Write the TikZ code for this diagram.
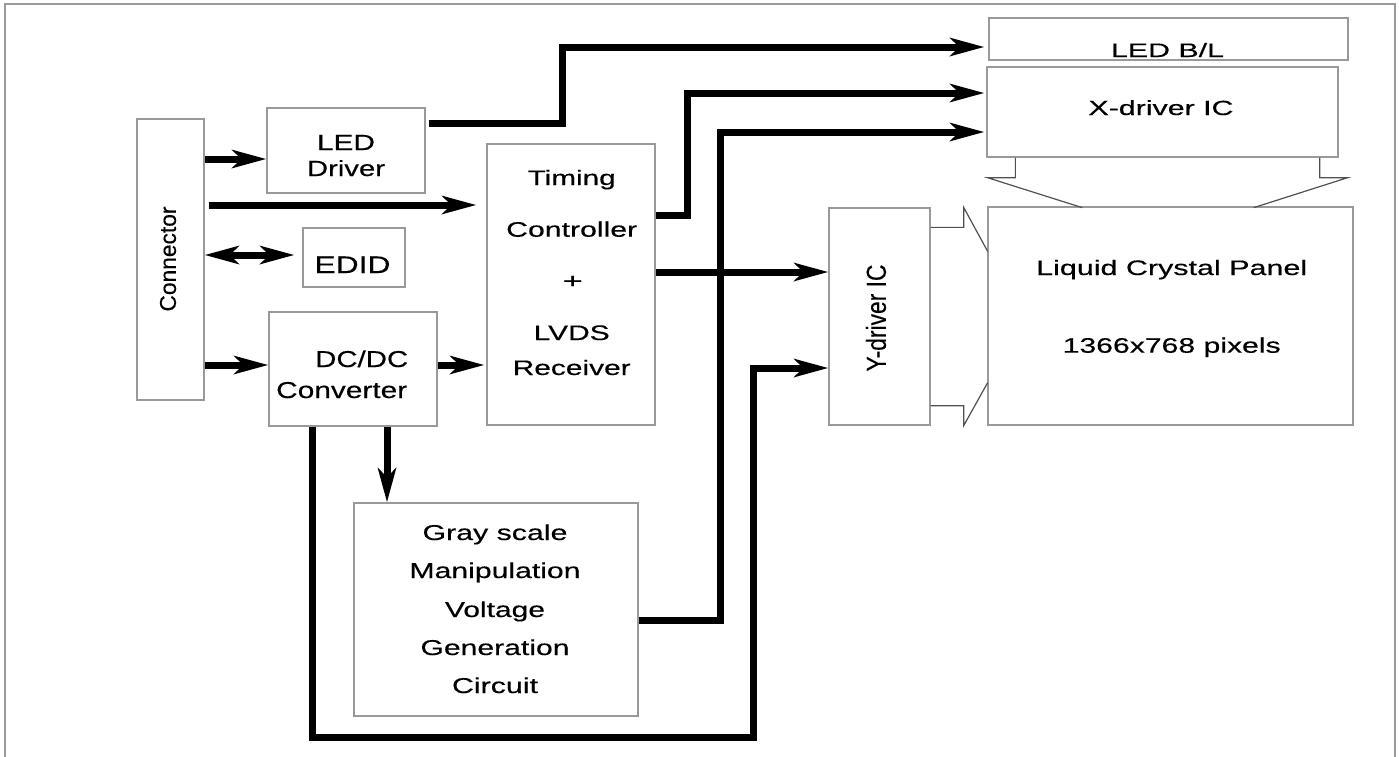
\documentclass[tikz,border=0pt]{standalone}
\usepackage{fontspec}
\setmainfont{Liberation Sans}
\usepackage{graphicx}
\usetikzlibrary{arrows.meta,calc}
\definecolor{boxgray}{HTML}{999999}
\definecolor{framegray}{HTML}{999999}
\definecolor{shpgray}{HTML}{505050}
\newcommand\txw[2]{\resizebox{#1}{\height}{#2}}
\newcommand\fsz[1]{\fontsize{#1}{#1}\selectfont\addfontfeature{FakeBold=0.3}}
\tikzset{
  box/.style={draw=boxgray, line width=1.3pt, inner sep=0pt, rectangle},
  lbl/.style={inner sep=0pt, anchor=base, font=\fsz{21}, text=black},
  vlbl/.style={inner sep=0pt, anchor=center, rotate=90, font=\fsz{20}, text=black},
  tip/.tip={Stealth[length=34pt,width=18pt,inset=9pt]},
  wire/.style={line width=7pt, line join=miter, black},
  arr/.style={wire, -tip},
  shp/.style={draw=shpgray, line width=1.2pt, line join=miter}
}
\begin{document}
\begin{tikzpicture}[x=1pt,y=-1pt]
\useasboundingbox (0,0) rectangle (1399,756);
% frame
\draw[framegray, line width=2.5pt] (5,760) -- (5,4) -- (1395,4) -- (1395,760);

% boxes
\node[box, minimum width=67pt,  minimum height=281pt] (conn)   at (170.5,259.5) {};
\node[box, minimum width=158pt, minimum height=85pt]  (leddrv) at (346,150.5) {};
\node[box, minimum width=102pt, minimum height=59pt]  (edid)   at (354,257.5) {};
\node[box, minimum width=168pt, minimum height=114pt] (dcdc)   at (353,369) {};
\node[box, minimum width=168pt, minimum height=281pt] (tcon)   at (571,284.5) {};
\node[box, minimum width=284pt, minimum height=213pt] (gray)   at (496,609.5) {};
\node[box, minimum width=359pt, minimum height=42pt]  (ledbl)  at (1168.5,39) {};
\node[box, minimum width=351pt, minimum height=90pt]  (xdrv)   at (1162.5,112) {};
\node[box, minimum width=365pt, minimum height=218pt] (lcp)    at (1170.5,316) {};
\node[box, minimum width=101pt, minimum height=217pt] (ydrv)   at (879.5,316.5) {};

% texts
\node[vlbl] (tconn) at (168,259) {\resizebox{105pt}{16pt}{Connector}};
\node[lbl, font=\fsz{22}] (tled1) at (346,150) {\txw{58pt}{LED}};
\node[lbl, font=\fsz{22}] (tled2) at (346,176) {\txw{78pt}{Driver}};
\node[lbl, font=\fsz{24}] (tedid) at (352.5,273) {\txw{76pt}{EDID}};
\node[lbl, font=\fsz{23}] (tdc1) at (361.7,367) {\txw{93pt}{DC/DC}};
\node[lbl, font=\fsz{23}] (tdc2) at (341.7,398) {\txw{131pt}{Converter}};
\node[lbl] (tt1) at (571.7,185) {\txw{88pt}{Timing}};
\node[lbl] (tt2) at (571.7,236.7) {\txw{131pt}{Controller}};
\node[lbl] (tt3) at (572.7,288) {\txw{20pt}{+}};
\node[lbl] (tt4) at (571.7,340) {\txw{76pt}{LVDS}};
\node[lbl] (tt5) at (571.7,375) {\txw{118pt}{Receiver}};
\node[lbl, font=\fsz{21.5}] (tg1) at (495,540) {\txw{145pt}{Gray scale}};
\node[lbl, font=\fsz{21.5}] (tg2) at (495,578) {\txw{171pt}{Manipulation}};
\node[lbl, font=\fsz{21.5}] (tg3) at (495,617) {\txw{100pt}{Voltage}};
\node[lbl, font=\fsz{21.5}] (tg4) at (495,655) {\txw{149pt}{Generation}};
\node[lbl, font=\fsz{21.5}] (tg5) at (495,693) {\txw{86pt}{Circuit}};
\node[lbl, font=\fsz{19.5}] (tbl) at (1167.5,57) {\txw{113pt}{LED B/L}};
\node[lbl, font=\fsz{20.5}] (tx) at (1161,115) {\txw{145pt}{X-driver IC}};
\node[vlbl] (ty) at (876,318) {\resizebox{107pt}{20pt}{Y-driver IC}};
\node[lbl] (tl1) at (1171.7,275) {\txw{271pt}{Liquid Crystal Panel}};
\node[lbl] (tl2) at (1171.7,352.7) {\txw{218pt}{1366x768 pixels}};

% connectors
\coordinate (p1) at ([yshift=-8.5pt]leddrv.west);
\draw[arr] (conn.east |- p1) -- (p1);

\coordinate (p2) at ([yshift=79.5pt]tcon.west);
\draw[arr, shorten <=4pt, shorten >=10pt] (conn.east |- p2) -- (p2);

\coordinate (p3) at ([yshift=2.5pt]edid.west);
\draw[wire, tip-tip, shorten >=8pt] (conn.east |- p3) -- (p3);

\coordinate (p4) at ([yshift=4pt]dcdc.west);
\draw[arr] (conn.east |- p4) -- (p4);
\draw[arr, shorten >=2pt] (dcdc.east |- p4) -- (tcon.west |- p4);

\coordinate (p6) at ([yshift=27.5pt,xshift=3pt]leddrv.east);
\coordinate (q6) at (562,47);
\draw[arr, shorten >=4pt] (p6) -| (q6) -- (ledbl.west |- q6);

\coordinate (p7) at ([yshift=69.5pt]tcon.east);
\coordinate (q7) at (687,93);
\draw[arr, shorten >=2pt] (p7) -| (q7) -- (xdrv.west |- q7);

\coordinate (p8) at ([yshift=-10.5pt]gray.east);
\coordinate (q8) at (720,132);
\draw[arr, shorten >=2pt] (p8) -| (q8) -- (xdrv.west |- q8);

\coordinate (p9) at ([yshift=12.5pt]tcon.east);
\draw[arr] (p9) -- (ydrv.west |- p9);

\coordinate (p10) at ([xshift=34pt]dcdc.south);
\draw[arr] (p10) -- (p10 |- gray.north);

\coordinate (p11) at ([xshift=-41pt]dcdc.south);
\coordinate (q11) at (753,737);
\coordinate (r11) at ([yshift=-51.5pt]ydrv.west);
\draw[arr] (p11) |- (q11) |- (r11);

% driver-to-panel outlines
\draw[shp] ([xshift=29pt]xdrv.south west) -- ++(0,20) -- ++(-28,0) -- ++(95,30);
\draw[shp] ([xshift=-19pt]xdrv.south east) -- ++(0,20) -- ++(28,0) -- ++(-94,30);
\draw[shp] ([yshift=-20pt]ydrv.north east) -- ++(33,0) -- ++(0,-20) -- ++(24,44);
\draw[shp] ([yshift=20pt]ydrv.south east) -- ++(33,0) -- ++(0,20) -- ++(24,-43);
\end{tikzpicture}
\end{document}
